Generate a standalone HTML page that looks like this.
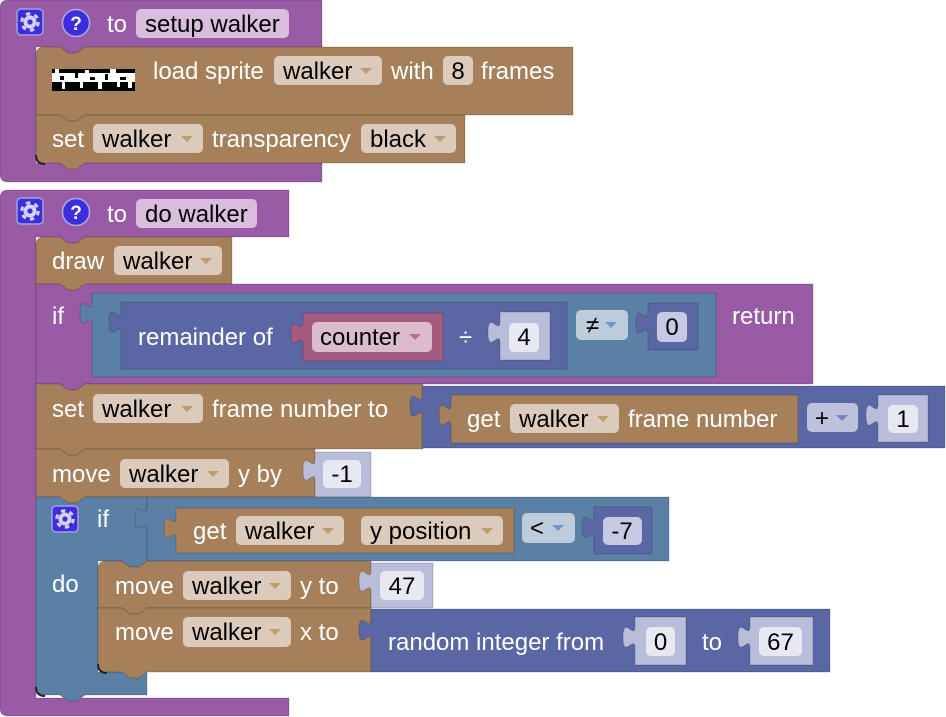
<!DOCTYPE html>
<html><head><meta charset="utf-8"><style>
html,body{margin:0;padding:0;background:#fff;}
svg{display:block;}
text{font-family:"Liberation Sans",Arial,sans-serif;font-size:24px;}
.w{fill:#fff;}
.k{fill:#000;}
.blk{stroke:rgba(0,0,0,0.18);stroke-width:1;}
</style></head><body>
<svg width="946" height="717" viewBox="0 0 946 717" xmlns="http://www.w3.org/2000/svg">
<!-- ============ PROC 1 ============ -->
<path class="blk" fill="#995ba6" d="M0,8 Q0,0 8,0 H322 V47 H85 l-8,6 h-9 l-8,-6 H36 V163 H322 V182 H8 Q0,182 0,174 Z"/>
<!-- gear -->
<rect x="17" y="9" width="26" height="26" rx="4" fill="#3b2edd" stroke="#a59de0" stroke-width="1.5"/>
<circle cx="30" cy="22" r="6.5" fill="#d6d2f3"/>
<circle cx="30" cy="22" r="8.3" fill="none" stroke="#d6d2f3" stroke-width="3" stroke-dasharray="4.35 4.35"/>
<circle cx="30" cy="22" r="2.6" fill="#3b2edd"/>
<!-- help -->
<circle cx="76" cy="23" r="13.5" fill="#3b2edd" stroke="#b0a8e0" stroke-width="1.5"/>
<text x="76" y="30" text-anchor="middle" style="font-size:19px;font-weight:bold" class="w">?</text>
<text x="107" y="32" class="w">to</text>
<rect x="136" y="9" width="153" height="29" rx="5" fill="#d8bddd"/>
<text x="145" y="32" class="k">setup walker</text>

<!-- load sprite -->
<path class="blk" fill="#a5805b" d="M36,55 Q36,47 44,47 H60 l8,6 h9 l8,-6 H573 V115 H85 l-8,6 h-9 l-8,-6 H36 Z"/>
<rect x="52" y="69" width="83" height="22" fill="#000"/>
<rect x="52" y="73" width="83" height="9" fill="#fff"/>
<rect x="55" y="69" width="4" height="4" fill="#fff"/>
<rect x="85" y="70" width="4" height="3" fill="#fff"/>
<rect x="110" y="69" width="6" height="4" fill="#fff"/>
<rect x="60" y="76" width="4" height="4" fill="#000"/>
<rect x="75" y="73" width="3" height="5" fill="#000"/>
<rect x="90" y="77" width="5" height="3" fill="#000"/>
<rect x="105" y="74" width="3" height="6" fill="#000"/>
<rect x="120" y="77" width="6" height="3" fill="#000"/>
<rect x="62" y="82" width="3" height="7" fill="#fff"/>
<rect x="80" y="82" width="3" height="6" fill="#fff"/>
<rect x="98" y="82" width="4" height="7" fill="#fff"/>
<rect x="117" y="82" width="3" height="5" fill="#fff"/>
<rect x="128" y="82" width="4" height="6" fill="#fff"/>
<text x="153" y="79" class="w">load sprite</text>
<rect x="274" y="56" width="108" height="29" rx="5" fill="#dccbbd"/>
<text x="283" y="79" class="k">walker</text>
<path d="M360,68 h12 l-6,6 Z" fill="#bf9a73"/>
<text x="391" y="79" class="w">with</text>
<rect x="443" y="56" width="30" height="29" rx="5" fill="#dccbbd"/>
<text x="458" y="79" text-anchor="middle" class="k">8</text>
<text x="481" y="79" class="w">frames</text>

<!-- set transparency -->
<path class="blk" fill="#a5805b" d="M36,115 H60 l8,6 h9 l8,-6 H465 V163 H85 l-8,6 h-9 l-8,-6 H44 Q36,163 36,155 Z"/>
<path d="M36,155 Q36,164 45,164" fill="none" stroke="#222" stroke-width="2"/>
<text x="52" y="147" class="w">set</text>
<rect x="93" y="124" width="110" height="29" rx="5" fill="#dccbbd"/>
<text x="102" y="147" class="k">walker</text>
<path d="M181,136 h12 l-6,6 Z" fill="#bf9a73"/>
<text x="212" y="147" class="w">transparency</text>
<rect x="361" y="124" width="95" height="29" rx="5" fill="#dccbbd"/>
<text x="370" y="147" class="k">black</text>
<path d="M434,136 h12 l-6,6 Z" fill="#bf9a73"/>

<!-- ============ PROC 2 ============ -->
<path class="blk" fill="#995ba6" d="M0,198 Q0,190 8,190 H289 V237 H85 l-8,6 h-9 l-8,-6 H36 V698 H289 V716 H8 Q0,716 0,708 Z"/>
<rect x="17" y="198" width="26" height="26" rx="4" fill="#3b2edd" stroke="#a59de0" stroke-width="1.5"/>
<circle cx="30" cy="211" r="6.5" fill="#d6d2f3"/>
<circle cx="30" cy="211" r="8.3" fill="none" stroke="#d6d2f3" stroke-width="3" stroke-dasharray="4.35 4.35"/>
<circle cx="30" cy="211" r="2.6" fill="#3b2edd"/>
<circle cx="76" cy="212" r="13.5" fill="#3b2edd" stroke="#b0a8e0" stroke-width="1.5"/>
<text x="76" y="219" text-anchor="middle" style="font-size:19px;font-weight:bold" class="w">?</text>
<text x="107" y="222" class="w">to</text>
<rect x="136" y="199" width="121" height="29" rx="5" fill="#d8bddd"/>
<text x="145" y="222" class="k">do walker</text>

<!-- draw walker -->
<path class="blk" fill="#a5805b" d="M36,245 Q36,237 44,237 H60 l8,6 h9 l8,-6 H232 V284 H85 l-8,6 h-9 l-8,-6 H36 Z"/>
<text x="52" y="269" class="w">draw</text>
<rect x="114" y="246" width="108" height="29" rx="5" fill="#dccbbd"/>
<text x="123" y="269" class="k">walker</text>
<path d="M200,258 h12 l-6,6 Z" fill="#bf9a73"/>

<!-- if ... return -->
<path class="blk" fill="#995ba6" d="M36,284 H60 l8,6 h9 l8,-6 H813 V384 H85 l-8,6 h-9 l-8,-6 H36 Z"/>
<text x="52" y="324" class="w">if</text>
<text x="732" y="324" class="w">return</text>
<!-- compare -->
<path class="blk" fill="#5b80a5" d="M92,293 H716 V377 H92 V324.5 c0,-15 -12,12 -12,-11.25 s12,3.75 12,-11.25 Z"/>
<!-- remainder -->
<path class="blk" fill="#5b67a5" d="M121,302 H567 V369 H121 V333.5 c0,-15 -12,12 -12,-11.25 s12,3.75 12,-11.25 Z"/>
<text x="138" y="345" class="w">remainder of</text>
<!-- counter -->
<path class="blk" fill="#a55b80" d="M303,313 H443 V361 H303 V344.5 c0,-15 -12,12 -12,-11.25 s12,3.75 12,-11.25 Z"/>
<rect x="312" y="322" width="120" height="30" rx="5" fill="#dbbccc"/>
<text x="320" y="345" class="k">counter</text>
<path d="M409,334 h12 l-6,6 Z" fill="#b86f93"/>
<text x="459" y="345" class="w">÷</text>
<!-- shadow 4 -->
<path class="blk" fill="#b9bdd9" d="M500,312 H550 V360 H500 V343.5 c0,-15 -12,12 -12,-11.25 s12,3.75 12,-11.25 Z"/>
<rect x="509" y="323" width="30" height="29" rx="5" fill="#e7e8f2"/>
<text x="524" y="345" text-anchor="middle" class="k">4</text>
<!-- ≠ -->
<rect x="576" y="310" width="52" height="30" rx="5" fill="#bdccdb"/>
<text x="586" y="333" class="k">≠</text>
<path d="M605,322 h12 l-6,6 Z" fill="#6f97c1"/>
<!-- number 0 -->
<path class="blk" fill="#5b67a5" d="M648,303 H698 V350 H648 V334.5 c0,-15 -12,12 -12,-11.25 s12,3.75 12,-11.25 Z"/>
<rect x="657" y="312" width="30" height="30" rx="5" fill="#c6c9e2"/>
<text x="672" y="335" text-anchor="middle" class="k">0</text>

<!-- set frame number to -->
<path class="blk" fill="#a5805b" d="M36,384 H60 l8,6 h9 l8,-6 H423 V449 H85 l-8,6 h-9 l-8,-6 H36 Z"/>
<text x="52" y="417" class="w">set</text>
<rect x="93" y="394" width="110" height="29" rx="5" fill="#dccbbd"/>
<text x="102" y="417" class="k">walker</text>
<path d="M181,406 h12 l-6,6 Z" fill="#bf9a73"/>
<text x="212" y="417" class="w">frame number to</text>
<!-- math + -->
<path class="blk" fill="#5b67a5" d="M422,386 H945 V448 H422 V417.5 c0,-15 -12,12 -12,-11.25 s12,3.75 12,-11.25 Z"/>
<path class="blk" fill="#a5805b" d="M451,395 H798 V443 H451 V426.5 c0,-15 -12,12 -12,-11.25 s12,3.75 12,-11.25 Z"/>
<text x="467" y="427" class="w">get</text>
<rect x="510" y="404" width="109" height="29" rx="5" fill="#dccbbd"/>
<text x="519" y="427" class="k">walker</text>
<path d="M597,416 h12 l-6,6 Z" fill="#bf9a73"/>
<text x="628" y="427" class="w">frame number</text>
<rect x="807" y="403" width="51" height="29" rx="5" fill="#bdc1db"/>
<text x="815" y="426" class="k">+</text>
<path d="M836,415 h12 l-6,6 Z" fill="#7784c6"/>
<path class="blk" fill="#b9bdd9" d="M878,395 H928 V442 H878 V426.5 c0,-15 -12,12 -12,-11.25 s12,3.75 12,-11.25 Z"/>
<rect x="888" y="405" width="30" height="28" rx="5" fill="#e7e8f2"/>
<text x="903" y="427" text-anchor="middle" class="k">1</text>

<!-- move y by -->
<path class="blk" fill="#a5805b" d="M36,449 H60 l8,6 h9 l8,-6 H315 V497 H85 l-8,6 h-9 l-8,-6 H36 Z"/>
<text x="52" y="482" class="w">move</text>
<rect x="120" y="459" width="109" height="29" rx="5" fill="#dccbbd"/>
<text x="129" y="482" class="k">walker</text>
<path d="M207,471 h12 l-6,6 Z" fill="#bf9a73"/>
<text x="238" y="482" class="w">y by</text>
<path class="blk" fill="#b9bdd9" d="M315,452 H371 V497 H315 V481.5 c0,-15 -12,12 -12,-11.25 s12,3.75 12,-11.25 Z"/>
<rect x="323" y="460" width="38" height="28" rx="5" fill="#e7e8f2"/>
<text x="342" y="482" text-anchor="middle" class="k">-1</text>

<!-- if block -->
<path class="blk" fill="#5b80a5" d="M36,497 H60 l8,6 h9 l8,-6 H147 V561 l-8,6 h-9 l-8,-6 H98 V672 H147 V695 H85 l-8,6 h-9 l-8,-6 H44 Q36,695 36,687 Z"/>
<path d="M36,687 Q36,696 45,696" fill="none" stroke="#222" stroke-width="2"/>
<rect x="52" y="506" width="26" height="26" rx="4" fill="#3b2edd" stroke="#a59de0" stroke-width="1.5"/>
<circle cx="65" cy="519" r="6.5" fill="#d6d2f3"/>
<circle cx="65" cy="519" r="8.3" fill="none" stroke="#d6d2f3" stroke-width="3" stroke-dasharray="4.35 4.35"/>
<circle cx="65" cy="519" r="2.6" fill="#3b2edd"/>
<text x="97" y="527" class="w">if</text>
<text x="52" y="592" class="w">do</text>
<!-- compare 2 -->
<path class="blk" fill="#5b80a5" d="M147,497 H669 V561 H147 V529.5 c0,-15 -12,12 -12,-11.25 s12,3.75 12,-11.25 Z"/>
<path class="blk" fill="#a5805b" d="M176,508 H514 V553 H176 V539.5 c0,-15 -12,12 -12,-11.25 s12,3.75 12,-11.25 Z"/>
<text x="193" y="539" class="w">get</text>
<rect x="236" y="516" width="108" height="29" rx="5" fill="#dccbbd"/>
<text x="245" y="539" class="k">walker</text>
<path d="M322,528 h12 l-6,6 Z" fill="#bf9a73"/>
<rect x="361" y="516" width="142" height="29" rx="5" fill="#dccbbd"/>
<text x="370" y="539" class="k">y position</text>
<path d="M481,528 h12 l-6,6 Z" fill="#bf9a73"/>
<rect x="522" y="513" width="53" height="30" rx="5" fill="#bdccdb"/>
<text x="530" y="536" class="k">&lt;</text>
<path d="M552,525 h12 l-6,6 Z" fill="#6f97c1"/>
<path class="blk" fill="#5b67a5" d="M594,507 H652 V554 H594 V538.5 c0,-15 -12,12 -12,-11.25 s12,3.75 12,-11.25 Z"/>
<rect x="603" y="517" width="39" height="28" rx="5" fill="#c6c9e2"/>
<text x="622" y="539" text-anchor="middle" class="k">-7</text>

<!-- move y to -->
<path class="blk" fill="#a5805b" d="M98,569 Q98,561 106,561 H122 l8,6 h9 l8,-6 H371 V608 H147 l-8,6 h-9 l-8,-6 H98 Z"/>
<text x="115" y="594" class="w">move</text>
<rect x="183" y="571" width="108" height="29" rx="5" fill="#dccbbd"/>
<text x="192" y="594" class="k">walker</text>
<path d="M269,583 h12 l-6,6 Z" fill="#bf9a73"/>
<text x="300" y="594" class="w">y to</text>
<path class="blk" fill="#b9bdd9" d="M371,563 H433 V608 H371 V592.5 c0,-15 -12,12 -12,-11.25 s12,3.75 12,-11.25 Z"/>
<rect x="380" y="571" width="44" height="29" rx="5" fill="#e7e8f2"/>
<text x="402" y="594" text-anchor="middle" class="k">47</text>

<!-- move x to -->
<path class="blk" fill="#a5805b" d="M98,608 H122 l8,6 h9 l8,-6 H371 V672 H147 l-8,6 h-9 l-8,-6 H106 Q98,672 98,664 Z"/>
<path d="M98,664 Q98,673 107,673" fill="none" stroke="#222" stroke-width="2"/>
<text x="115" y="640" class="w">move</text>
<rect x="183" y="617" width="108" height="30" rx="5" fill="#dccbbd"/>
<text x="192" y="640" class="k">walker</text>
<path d="M269,629 h12 l-6,6 Z" fill="#bf9a73"/>
<text x="300" y="640" class="w">x to</text>
<!-- random integer -->
<path class="blk" fill="#5b67a5" d="M371,609 H830 V672 H371 V641.5 c0,-15 -12,12 -12,-11.25 s12,3.75 12,-11.25 Z"/>
<text x="388" y="650" class="w">random integer from</text>
<path class="blk" fill="#b9bdd9" d="M635,617 H686 V665 H635 V648.5 c0,-15 -12,12 -12,-11.25 s12,3.75 12,-11.25 Z"/>
<rect x="646" y="627" width="29" height="29" rx="5" fill="#e7e8f2"/>
<text x="660.5" y="650" text-anchor="middle" class="k">0</text>
<text x="702" y="650" class="w">to</text>
<path class="blk" fill="#b9bdd9" d="M750,617 H813 V665 H750 V648.5 c0,-15 -12,12 -12,-11.25 s12,3.75 12,-11.25 Z"/>
<rect x="759" y="627" width="43" height="29" rx="5" fill="#e7e8f2"/>
<text x="780.5" y="650" text-anchor="middle" class="k">67</text>
</svg>
</body></html>
